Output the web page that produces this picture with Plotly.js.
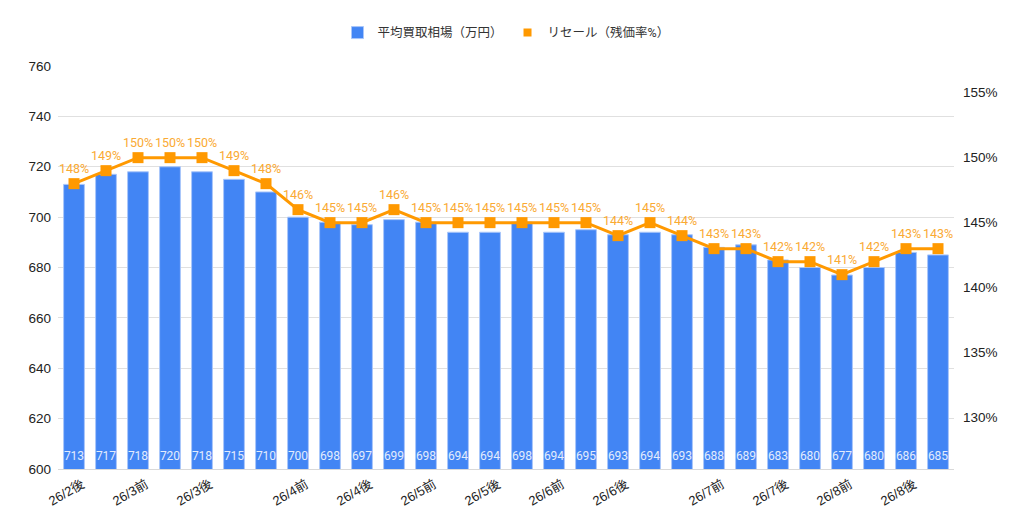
<!DOCTYPE html>
<html>
<head>
<meta charset="utf-8">
<script src="https://cdn.plot.ly/plotly-3.0.1.min.js"></script>
<style>
  html, body { margin:0; padding:0; background:#fff; }
  #chart { width:1024px; height:527px; }
</style>
</head>
<body>
<div id="chart"></div>
<script>
// bar series: average buy price (10k yen)
const avgPrice = [713,717,718,720,718,715,710,700,698,697,699,698,694,694,
                  698,694,695,693,694,693,688,689,683,680,677,680,686,685];
// line series: resale value rate (%)
const resaleRate = [148,149,150,150,150,149,148,146,145,145,146,145,145,145,
                    145,145,145,144,145,144,143,143,142,142,141,142,143,143];
// only some categories get a visible tick label
const tickIdx  = [0,2,4,7,9,11,13,15,17,20,22,24,26];
const tickText = ["26/2後","26/3前","26/3後","26/4前","26/4後","26/5前","26/5後",
                  "26/6前","26/6後","26/7前","26/7後","26/8前","26/8後"];

const Y_MIN = 600, Y_MAX = 760;
const xs = avgPrice.map((_, i) => i);
const FONT = "Roboto, 'Noto Sans CJK JP', sans-serif";
const AXIS_FONT = "'Liberation Sans', Arial, 'Noto Sans CJK JP', sans-serif";
const C_BLUE = "#4285F4";
const C_ORANGE = "#FF9900";

const bars = {
  x: xs, y: avgPrice, type: "bar", name: "平均買取相場（万円）",
  marker: { color: C_BLUE, line: { color: "#a9c6fa", width: 1 } },
  textposition: "none", hoverinfo: "x+y"
};

// value labels sitting at the foot of each bar (invisible marker lifts them a little)
const barLabels = {
  x: xs, y: xs.map(() => Y_MIN), type: "scatter", mode: "markers+text",
  marker: { size: 8, opacity: 0 },
  text: avgPrice.map(String), textposition: "top center",
  textfont: { color: "#e3ecfd", size: 12, family: FONT },
  showlegend: false, hoverinfo: "skip", cliponaxis: false
};

const line = {
  x: xs, y: resaleRate, type: "scatter", mode: "lines+markers+text", yaxis: "y2",
  name: "リセール（残価率%）", showlegend: false,
  line: { color: C_ORANGE, width: 3 },
  marker: { color: C_ORANGE, symbol: "square", size: 11 },
  text: resaleRate.map(v => v + "%"), textposition: "top center",
  textfont: { color: "#FAAA33", size: 12.5, family: FONT }, cliponaxis: false
};

// legend-only entry so the key shows a plain square like the original
const lineKey = {
  x: [null], y: [null], type: "scatter", mode: "markers", yaxis: "y2",
  name: "リセール（残価率%）",
  marker: { color: C_ORANGE, symbol: "square", size: 8 }
};

const layout = {
  width: 1024, height: 527,
  margin: { l: 58, r: 70, t: 66, b: 58 },
  paper_bgcolor: "#fff", plot_bgcolor: "#fff",
  font: { family: FONT, color: "#222", size: 13 },
  bargap: 0.35,
  showlegend: true,
  legend: { orientation: "h", x: 0.5, xanchor: "center", y: 1.082, yanchor: "middle",
            font: { size: 12.5, color: "#333" }, traceorder: "normal", itemwidth: 30 },
  xaxis: {
    range: [-0.5, 27.5], tickmode: "array", tickvals: tickIdx, ticktext: tickText,
    tickangle: -30, tickfont: { size: 13, color: "#222", family: AXIS_FONT }, ticks: "",
    ticklabelshift: 8, ticklabelstandoff: 2,
    showgrid: false, showline: true, linecolor: "#d9d9d9", linewidth: 1, zeroline: false
  },
  yaxis: {
    range: [Y_MIN, Y_MAX], dtick: 20, tick0: Y_MIN, gridcolor: "#e0e0e0",
    tickfont: { size: 13.5, color: "#222", family: AXIS_FONT }, zeroline: false,
    ticks: "", ticklabelstandoff: 6
  },
  yaxis2: {
    overlaying: "y", side: "right", range: [126.05, 157.05],
    tickmode: "array", tickvals: [130,135,140,145,150,155],
    ticktext: ["130%","135%","140%","145%","150%","155%"],
    showgrid: false, zeroline: false, ticklabelstandoff: 8,
    tickfont: { size: 13.5, color: "#222", family: AXIS_FONT }
  }
};

Plotly.newPlot("chart", [bars, barLabels, line, lineKey], layout, { displayModeBar: false, staticPlot: true });
</script>
</body>
</html>
